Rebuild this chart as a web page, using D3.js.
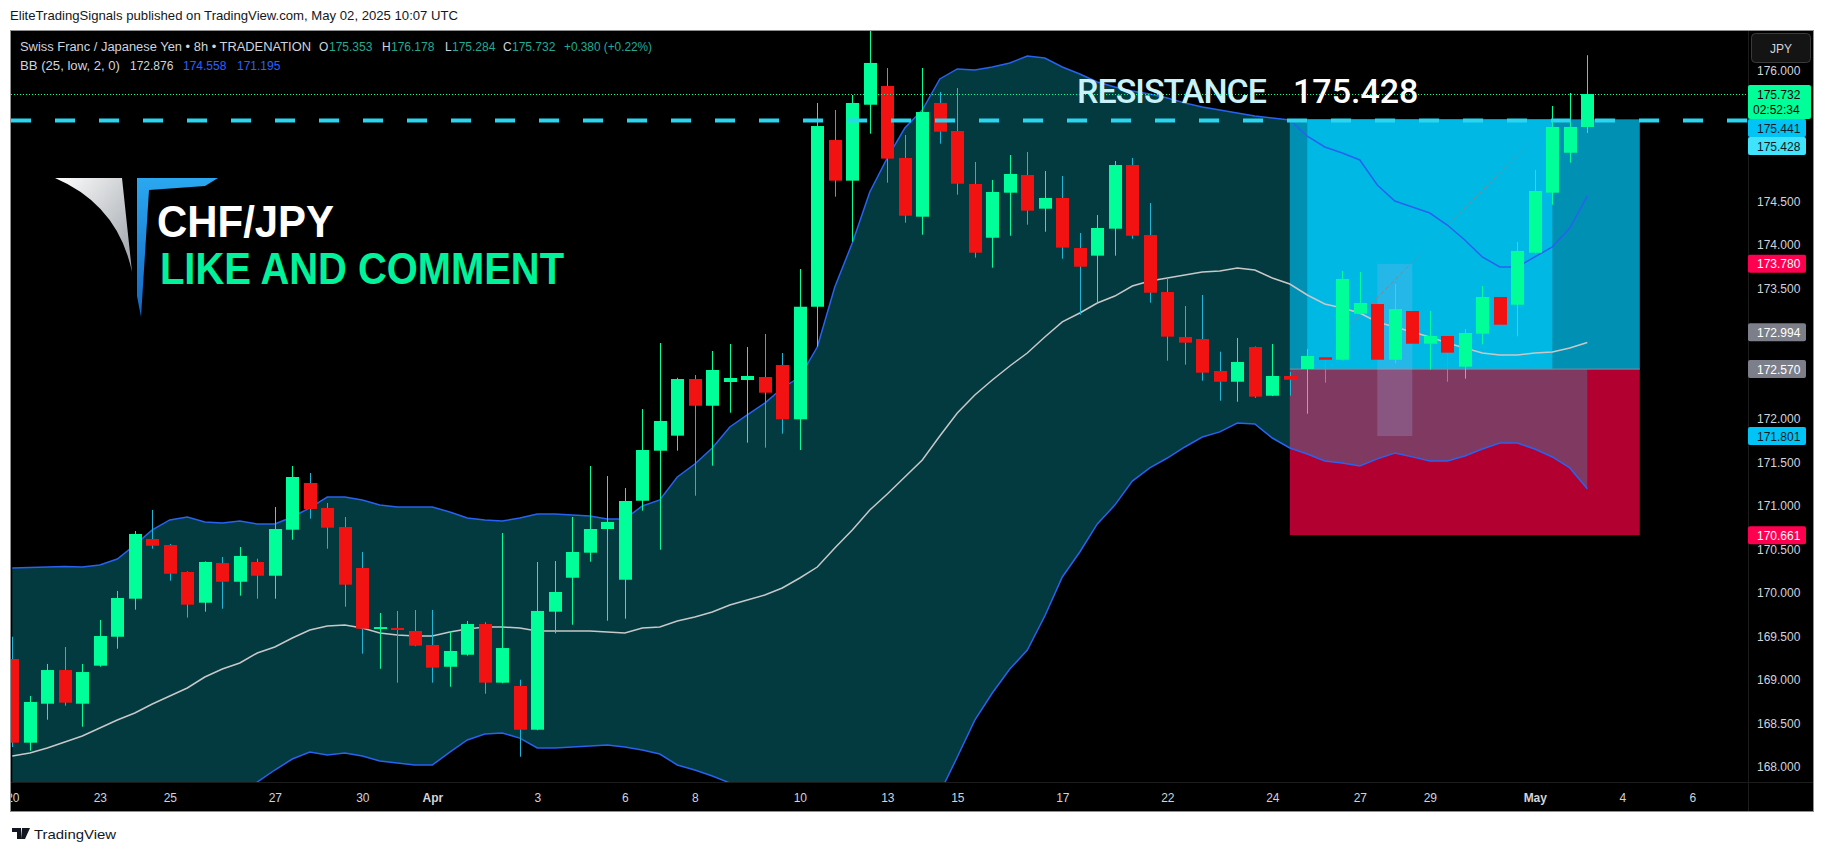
<!DOCTYPE html>
<html><head><meta charset="utf-8">
<script src="https://cdn.jsdelivr.net/npm/d3@7"></script>
<style>html,body{margin:0;padding:0;background:#fff;overflow:hidden}</style>
</head><body>
<svg id="c" width="1826" height="852"></svg>
<script>
// ---------------- DATA ----------------
const opens=[169.238,168.276,168.724,169.111,168.724,169.161,169.494,169.931,170.617,170.548,
170.238,169.885,170.341,170.126,170.353,170.195,170.724,171.261,170.974,170.755,
170.284,169.598,169.594,169.560,169.399,169.149,169.287,169.640,168.966,168.928,
168.425,169.782,170.172,170.460,170.732,170.149,171.057,171.632,171.805,172.456,
172.149,172.422,172.445,172.479,172.617,171.993,173.287,175.203,174.736,175.609,
175.824,174.997,174.322,175.629,175.307,174.698,174.080,174.598,174.801,174.414,
174.537,173.962,173.874,174.184,174.916,174.111,173.456,172.939,172.916,172.548,
172.425,172.824,172.264,172.491,172.571,172.706,172.678,173.207,173.318,172.678,
173.238,172.862,172.951,172.598,172.977,173.399,173.310,173.908,174.598,175.057,
175.353];
const highs=[169.494,168.813,169.181,169.376,169.181,169.686,170.020,170.709,170.951,170.560,
170.245,170.360,170.410,170.525,170.391,170.985,171.456,171.376,171.031,170.870,
170.468,169.767,169.790,169.801,169.801,169.560,169.675,169.660,170.686,169.000,
170.353,170.364,170.870,171.456,171.341,171.203,172.111,172.870,172.470,172.502,
172.778,172.859,172.824,172.974,172.755,173.721,175.629,175.548,175.721,176.468,
176.031,175.261,176.031,175.755,175.801,174.951,174.744,175.031,175.066,174.847,
174.790,174.134,174.341,174.962,174.997,174.479,173.617,173.295,173.422,172.770,
172.928,172.830,172.859,172.537,172.801,172.710,173.698,173.686,173.330,173.548,
173.250,173.238,172.960,173.031,173.525,173.410,174.031,174.859,175.594,175.744,
176.178];
const lows=[168.226,168.184,168.540,168.701,168.460,169.150,169.356,169.805,170.506,170.138,
169.713,169.782,169.816,169.966,169.931,169.931,170.609,170.851,170.506,169.839,
169.299,169.126,168.966,169.385,168.966,168.920,169.276,168.839,168.960,168.115,
168.420,169.533,169.632,170.356,169.678,169.701,170.943,170.494,171.632,171.115,
171.460,172.069,171.724,171.667,171.828,171.640,172.828,174.552,174.034,175.276,
174.713,174.253,174.115,175.161,174.575,173.851,173.736,174.103,174.230,174.149,
173.839,173.195,173.333,173.874,174.069,173.333,172.667,172.621,172.437,172.207,
172.195,172.240,172.260,172.264,172.057,172.414,172.670,173.200,172.670,172.637,
172.850,172.563,172.425,172.460,172.855,173.070,172.947,173.900,174.460,174.943,
175.284];
const closes=[168.276,168.744,169.111,168.736,169.088,169.502,169.939,170.675,170.540,170.218,
169.862,170.353,170.126,170.422,170.195,170.732,171.330,170.962,170.747,170.092,
169.586,169.605,169.575,169.391,169.138,169.330,169.640,168.966,169.364,168.425,
169.790,170.008,170.468,170.732,170.813,171.054,171.640,171.974,172.456,172.149,
172.560,172.468,172.491,172.299,171.993,173.287,175.364,174.736,175.629,176.089,
174.989,174.333,175.525,175.299,174.701,173.908,174.606,174.813,174.391,174.537,
173.966,173.747,174.192,174.916,174.103,173.448,172.943,172.874,172.529,172.425,
172.652,172.253,172.491,172.448,172.721,172.678,173.606,173.330,172.678,173.261,
172.862,172.951,172.759,172.985,173.399,173.080,173.928,174.617,175.353,175.353,
175.732];
const bbUpper=[170.284,170.290,170.295,170.301,170.295,170.318,170.387,170.548,170.721,170.836,
170.870,170.813,170.801,170.824,170.790,170.790,170.870,170.974,171.100,171.100,
171.066,171.008,170.985,170.985,170.985,170.928,170.859,170.836,170.824,170.859,
170.905,170.905,170.893,170.882,170.847,170.847,170.997,171.066,171.330,171.479,
171.663,171.905,172.043,172.180,172.353,172.479,172.824,173.514,174.020,174.606,
174.997,175.341,175.548,175.905,176.020,176.008,176.043,176.089,176.169,176.146,
176.043,175.962,175.870,175.813,175.767,175.732,175.686,175.629,175.583,175.548,
175.514,175.479,175.456,175.433,175.249,175.123,175.054,174.974,174.686,174.502,
174.433,174.364,174.226,174.054,173.859,173.744,173.744,173.859,173.974,174.192,
174.558];
const bbMiddle=[168.123,168.157,168.215,168.284,168.353,168.445,168.537,168.617,168.721,168.813,
168.905,169.031,169.123,169.192,169.307,169.376,169.479,169.571,169.617,169.629,
169.594,169.537,169.514,169.502,169.502,169.548,169.583,169.606,169.606,169.594,
169.560,169.560,169.560,169.560,169.548,169.537,169.594,169.606,169.675,169.721,
169.778,169.859,169.916,169.974,170.054,170.169,170.295,170.514,170.721,170.951,
171.134,171.330,171.525,171.801,172.066,172.272,172.445,172.606,172.755,172.939,
173.112,173.215,173.330,173.410,173.525,173.583,173.617,173.652,173.686,173.698,
173.732,173.709,173.617,173.548,173.422,173.318,173.272,173.215,173.112,173.054,
172.997,172.939,172.870,172.813,172.755,172.732,172.732,172.755,172.767,172.813,
172.876];
const bbLower=[165.962,166.024,166.135,166.267,166.411,166.572,166.687,166.686,166.721,166.790,
166.940,167.249,167.445,167.560,167.824,167.962,168.088,168.168,168.134,168.158,
168.122,168.066,168.043,168.019,168.019,168.168,168.307,168.376,168.388,168.329,
168.215,168.215,168.227,168.238,168.249,168.227,168.191,168.146,168.020,167.963,
167.893,167.813,167.789,167.768,167.755,167.700,167.660,167.514,167.422,167.296,
167.271,167.319,167.502,167.697,168.112,168.536,168.847,169.123,169.341,169.732,
170.181,170.468,170.790,171.007,171.283,171.434,171.548,171.675,171.789,171.848,
171.950,171.939,171.778,171.663,171.595,171.513,171.490,171.456,171.538,171.606,
171.561,171.514,171.514,171.572,171.651,171.720,171.720,171.651,171.560,171.434,
171.195];
const timeTickIdx=[0,5,9,15,20,24,30,35,39,45,50,54,60,66,72,77,81,87,92,96];
const timeTickLabels=["20","23","25","27","30","Apr","3","6","8","10","13","15","17","22","24","27","29","May","4","6"];
const priceTicks=[168,168.5,169,169.5,170,170.5,171,171.5,172,172.5,173,173.5,174,174.5,175,175.5,176];
const badgeValues=[175.732,175.441,175.428,173.780,172.994,172.570,171.801,170.661];
const badgeKinds=["last","target","resist","red","gray","gray","blue","red"];
const resistance=175.428, entry=172.570, target=175.441, stop=170.661;
const rangeTop=173.780, rangeBottom=171.801;
const lastPrice=175.732;

// ---------------- DRAW ----------------
const FONT="Liberation Sans, Arial, sans-serif";
const svg=d3.select("#c");
svg.append("rect").attr("width",1826).attr("height",852).attr("fill","#fff");
svg.append("text").attr("x",10).attr("y",20).attr("font-family",FONT).attr("font-size",13)
  .attr("textLength",448).attr("lengthAdjust","spacingAndGlyphs")
  .attr("fill","#131722").text("EliteTradingSignals published on TradingView.com, May 02, 2025 10:07 UTC");

const P={l:11,r:1748,t:31,b:782};
svg.append("rect").attr("x",10.5).attr("y",30.5).attr("width",1803).attr("height",781)
  .attr("fill","#000").attr("stroke","#8f8f8f").attr("stroke-width",1);

const x=d3.scaleLinear().domain([0,90]).range([12.3,1587.3]);
const y=d3.scaleLinear().domain([168,176]).range([766.7,70.7]);

const defs=svg.append("defs");
defs.append("clipPath").attr("id","plot").append("rect")
  .attr("x",P.l).attr("y",P.t).attr("width",P.r-P.l).attr("height",P.b-P.t);
defs.append("clipPath").attr("id","tclip").append("rect")
  .attr("x",P.l).attr("y",P.b).attr("width",P.r-P.l).attr("height",30);
const g=svg.append("g").attr("clip-path","url(#plot)");

const idx=d3.range(opens.length);
// stop zone base
const boxL=x(73), boxR=x(93);
g.append("rect").attr("x",boxL).attr("y",y(entry)).attr("width",boxR-boxL)
  .attr("height",y(stop)-y(entry)).attr("fill","#b20030");
// BB fill
g.append("path").datum(idx).attr("d",d3.area().x(i=>x(i)).y0(i=>y(bbLower[i])).y1(i=>y(bbUpper[i])))
  .attr("fill","rgb(7,200,220)").attr("fill-opacity",0.29);
// profit zone
g.append("rect").attr("x",boxL).attr("y",y(target)).attr("width",boxR-boxL)
  .attr("height",y(entry)-y(target)).attr("fill","#0090b4");
g.append("rect").attr("x",x(74)).attr("y",y(target)).attr("width",x(88)-x(74))
  .attr("height",y(entry)-y(target)).attr("fill","#00b8e4");
g.append("line").attr("x1",boxL).attr("x2",boxR).attr("y1",y(entry)).attr("y2",y(entry))
  .attr("stroke","#8a8d96").attr("stroke-width",1);
// price range rectangle
g.append("rect").attr("x",x(78)).attr("y",y(rangeTop)).attr("width",x(80)-x(78))
  .attr("height",y(rangeBottom)-y(rangeTop)).attr("fill","rgb(170,180,240)").attr("fill-opacity",0.22);
// diagonal dashed
g.append("line").attr("x1",x(74)).attr("y1",y(entry)).attr("x2",x(88)).attr("y2",y(target))
  .attr("stroke","#7a8a99").attr("stroke-width",1).attr("stroke-dasharray","4,3");
// BB lines
const line=arr=>d3.line().x(i=>x(i)).y(i=>y(arr[i]));
g.append("path").datum(idx).attr("d",line(bbUpper)).attr("fill","none").attr("stroke","#2862f0").attr("stroke-width",1.5);
g.append("path").datum(idx).attr("d",line(bbLower)).attr("fill","none").attr("stroke","#2862f0").attr("stroke-width",1.5);
g.append("path").datum(idx).attr("d",line(bbMiddle)).attr("fill","none").attr("stroke","#c8c8c8").attr("stroke-width",1.5);
// candles
const UP="#00ff99", DN="#f31212", DNW="#1fb6d6";
const cg=g.append("g");
idx.forEach(i=>{
  const up=closes[i]>=opens[i];
  const cx=Math.round(x(i))+0.5;
  cg.append("line").attr("x1",cx).attr("x2",cx).attr("y1",y(highs[i])).attr("y2",y(lows[i]))
    .attr("stroke",up?UP:DNW).attr("stroke-width",1);
  const t=y(Math.max(opens[i],closes[i])), b=y(Math.min(opens[i],closes[i]));
  cg.append("rect").attr("x",Math.round(x(i))-6).attr("y",t).attr("width",13)
    .attr("height",Math.max(2,b-t)).attr("fill",up?UP:DN);
});
// resistance dashed line
g.append("line").attr("x1",P.l).attr("x2",P.r).attr("y1",y(resistance)).attr("y2",y(resistance))
  .attr("stroke","#2ad6ef").attr("stroke-width",4).attr("stroke-dasharray","20,24");
// last price dotted
g.append("line").attr("x1",P.l).attr("x2",P.r).attr("y1",Math.round(y(lastPrice))+0.5).attr("y2",Math.round(y(lastPrice))+0.5)
  .attr("stroke","#00ff99").attr("stroke-width",1).attr("stroke-dasharray","1,2");

// Resistance text
const rt=g.append("text").attr("y",103).attr("font-family","Roboto, Liberation Sans, sans-serif")
  .attr("font-size",34).attr("font-weight",500);
rt.append("tspan").attr("x",1077).attr("fill","#c9f1f8").attr("textLength",190).attr("lengthAdjust","spacing").text("RESISTANCE");
rt.append("tspan").attr("fill","#ffffff").attr("x",1293).text(resistance.toFixed(3));

// Logo
const gw=defs.append("linearGradient").attr("id","gw").attr("x1",0).attr("y1",0).attr("x2",1).attr("y2",1);
gw.append("stop").attr("offset",0).attr("stop-color","#ffffff");
gw.append("stop").attr("offset",1).attr("stop-color","#9aa0a6");
const gb=defs.append("linearGradient").attr("id","gb").attr("x1",0).attr("y1",0).attr("x2",0).attr("y2",1);
gb.append("stop").attr("offset",0).attr("stop-color","#2aa8f0");
gb.append("stop").attr("offset",1).attr("stop-color","#1565c0");
svg.append("path").attr("d","M55,178 L122,178 L132,272 Q118,205 55,178 Z").attr("fill","url(#gw)");
svg.append("path").attr("d","M137,178 L218,178 L205,186 L149,190 L141,317 L137,296 Z").attr("fill","url(#gb)");
svg.append("text").attr("x",157).attr("y",237).attr("font-family",FONT).attr("font-weight","bold")
  .attr("font-size",44).attr("fill","#fff").attr("textLength",177).attr("lengthAdjust","spacingAndGlyphs").text("CHF/JPY");
svg.append("text").attr("x",160).attr("y",284).attr("font-family",FONT).attr("font-weight","bold")
  .attr("font-size",44).attr("fill","#00f39a").attr("textLength",404).attr("lengthAdjust","spacingAndGlyphs").text("LIKE AND COMMENT");

// Legend
const lgd=svg.append("g").attr("font-family",FONT).attr("font-size",12);
const L1=[["Swiss Franc / Japanese Yen • 8h • TRADENATION",20,"#d1d4dc",291],["O",319,"#d1d4dc",0],["175.353",329,"#22ab94",0],
 ["H",382,"#d1d4dc",0],["176.178",391,"#22ab94",0],["L",445,"#d1d4dc",0],["175.284",452,"#22ab94",0],
 ["C",503,"#d1d4dc",0],["175.732",512,"#22ab94",0],["+0.380 (+0.22%)",564,"#22ab94",88]];
L1.forEach(d=>{const t=lgd.append("text").attr("x",d[1]).attr("y",51).attr("fill",d[2]).text(d[0]);
  if(d[3]) t.attr("textLength",d[3]).attr("lengthAdjust","spacingAndGlyphs");});
const L2=[["BB (25, low, 2, 0)",20,"#d1d4dc",100],["172.876",130,"#d1d4dc",0],["174.558",183,"#2962ff",0],["171.195",237,"#2962ff",0]];
L2.forEach(d=>{const t=lgd.append("text").attr("x",d[1]).attr("y",70).attr("fill",d[2]).text(d[0]);
  if(d[3]) t.attr("textLength",d[3]).attr("lengthAdjust","spacingAndGlyphs");});

// separators
svg.append("line").attr("x1",P.r+0.5).attr("x2",P.r+0.5).attr("y1",31).attr("y2",811).attr("stroke","#1c1c1c");
svg.append("line").attr("x1",11).attr("x2",1813).attr("y1",P.b+0.5).attr("y2",P.b+0.5).attr("stroke","#1c1c1c");

// badges geometry first (to hide covered tick labels)
const boxes=[]; let prevBottom=-1e9;
badgeValues.forEach((v,k)=>{
  const kind=badgeKinds[k]; const h=kind==="last"?34:18;
  let top=y(v)-9; if(top<prevBottom) top=prevBottom; prevBottom=top+h;
  boxes.push({v,kind,top,h,w:kind==="last"?63:58});
});

// price axis
const pa=svg.append("g").attr("transform",`translate(${P.r},0)`)
  .call(d3.axisRight(y).tickValues(priceTicks).tickFormat(d3.format(".3f")).tickSize(0).tickPadding(9));
pa.select(".domain").remove();
pa.selectAll("text").attr("fill","#d1d4dc").attr("font-family",FONT).attr("font-size",12);
pa.selectAll(".tick").filter(d=>boxes.some(b=>y(d)>b.top-4&&y(d)<b.top+b.h+4)).remove();

// time axis
const taw=svg.append("g").attr("clip-path","url(#tclip)");
const ta=taw.append("g").attr("transform",`translate(0,${P.b})`)
  .call(d3.axisBottom(x).tickValues(timeTickIdx).tickFormat((d,i)=>timeTickLabels[i]).tickSize(0).tickPadding(11));
ta.select(".domain").remove();
ta.selectAll("text").attr("fill","#d1d4dc").attr("font-family",FONT).attr("font-size",12)
  .attr("font-weight",(d,i)=>/[A-Za-z]/.test(timeTickLabels[i])?"bold":"normal");

// badges
const bcol={last:["#00ff99","#000"],target:["#00c4f5","#0b1a22"],resist:["#3fe3fb","#0b1a22"],red:["#ff0050","#fff"],gray:["#7c7f89","#fff"],blue:["#00c4f5","#0b1a22"]};
const bg=svg.append("g").attr("font-family",FONT).attr("font-size",12);
boxes.forEach(b=>{
  bg.append("rect").attr("x",P.r).attr("y",b.top).attr("width",b.w).attr("height",b.h).attr("rx",2).attr("fill",bcol[b.kind][0]);
  bg.append("text").attr("x",P.r+9).attr("y",b.top+13.5).attr("fill",bcol[b.kind][1]).text(b.v.toFixed(3));
  if(b.kind==="last") bg.append("text").attr("x",P.r+5).attr("y",b.top+29).attr("fill","#000").text("02:52:34");
});

// JPY button
svg.append("rect").attr("x",1751.5).attr("y",33.5).attr("width",59).attr("height",29).attr("rx",4)
  .attr("fill","#141414").attr("stroke","#3a3a3a");
svg.append("text").attr("x",1781).attr("y",53).attr("text-anchor","middle").attr("font-family",FONT)
  .attr("font-size",12).attr("fill","#d1d4dc").text("JPY");

// footer logo
svg.append("path").attr("d","M12,828 h9 v11 h-4 v-7 h-5 z M22,828 h8 l-5,11 h-4 z").attr("fill","#131722");
svg.append("text").attr("x",34).attr("y",839).attr("font-family",FONT).attr("font-size",13)
  .attr("textLength",82).attr("lengthAdjust","spacingAndGlyphs").attr("fill","#131722").text("TradingView");
</script>
</body></html>
